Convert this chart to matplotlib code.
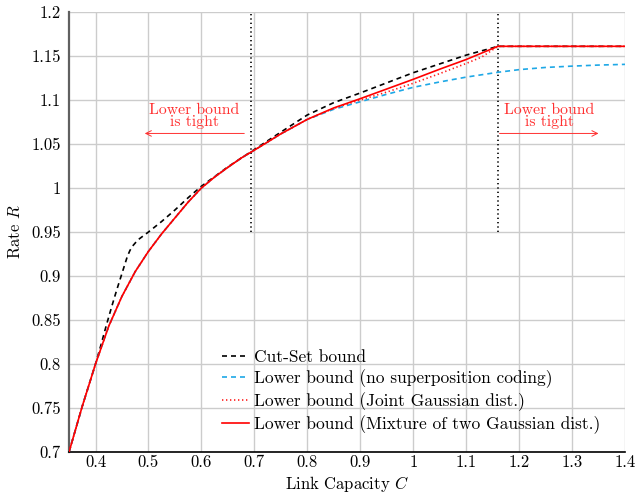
import matplotlib
matplotlib.use("Agg")
import matplotlib.pyplot as plt

plt.rcParams["font.family"] = ["cmr10", "DejaVu Serif"]
plt.rcParams["mathtext.fontset"] = "cm"
plt.rcParams["axes.formatter.use_mathtext"] = True

# Cut-set upper bound
cut_C = [0.35, 0.375, 0.4, 0.41, 0.42, 0.43, 0.44, 0.45, 0.46, 0.465, 0.47,
         0.48, 0.5, 0.525, 0.55, 0.575, 0.6, 0.65, 0.693, 0.75, 0.8, 0.85,
         0.9, 1.0, 1.1, 1.16, 1.2, 1.3, 1.4]
cut_R = [0.7, 0.752, 0.8, 0.821, 0.843, 0.864, 0.884, 0.903, 0.922, 0.929,
         0.934, 0.941, 0.950, 0.962, 0.975, 0.989, 1.002, 1.024, 1.041,
         1.0635, 1.083, 1.097, 1.108, 1.131, 1.151, 1.161, 1.161, 1.161, 1.161]

# Lower bound without superposition coding
nosc_C = [0.35, 0.375, 0.4, 0.425, 0.45, 0.475, 0.5, 0.525, 0.55, 0.575, 0.6,
          0.625, 0.65, 0.675, 0.7, 0.75, 0.8, 0.85, 0.9, 0.95, 1.0, 1.05,
          1.1, 1.16, 1.2, 1.25, 1.3, 1.35, 1.4]
nosc_R = [0.7, 0.752, 0.8, 0.843, 0.877, 0.905, 0.928, 0.948, 0.966, 0.984,
          1.0, 1.0125, 1.0235, 1.034, 1.043, 1.0615, 1.078, 1.0895, 1.098,
          1.1065, 1.1144, 1.1205, 1.126, 1.1315, 1.1345, 1.137, 1.1385,
          1.1397, 1.1405]

# Lower bound with jointly Gaussian distribution
jg_C = [0.35, 0.375, 0.4, 0.425, 0.45, 0.475, 0.5, 0.525, 0.55, 0.575, 0.6,
        0.625, 0.65, 0.675, 0.7, 0.75, 0.8, 0.85, 0.9, 0.95, 1.0, 1.05, 1.1,
        1.13, 1.16, 1.2, 1.3, 1.4]
jg_R = [0.7, 0.752, 0.8, 0.843, 0.877, 0.905, 0.928, 0.948, 0.966, 0.984,
        1.0, 1.0125, 1.0235, 1.034, 1.043, 1.0615, 1.078, 1.0905, 1.1, 1.109,
        1.119, 1.130, 1.1415, 1.149, 1.161, 1.161, 1.161, 1.161]

# Lower bound with a mixture of two Gaussian distributions
mix_C = [0.35, 0.375, 0.4, 0.425, 0.45, 0.475, 0.5, 0.525, 0.55, 0.575, 0.6,
         0.625, 0.65, 0.675, 0.7, 0.75, 0.8, 0.85, 0.9, 0.95, 1.0, 1.05, 1.1,
         1.16, 1.2, 1.3, 1.4]
mix_R = [0.7, 0.752, 0.8, 0.843, 0.877, 0.905, 0.928, 0.948, 0.966, 0.984,
         1.0, 1.0125, 1.0235, 1.034, 1.043, 1.0615, 1.078, 1.091, 1.1015,
         1.1125, 1.1235, 1.135, 1.146, 1.161, 1.161, 1.161, 1.161]

# Thresholds marking where the lower bound is tight
thresholds = [0.693, 1.16]
threshold_ymin = 0.95

x_ticks = [0.4, 0.5, 0.6, 0.7, 0.8, 0.9, 1.0, 1.1, 1.2, 1.3, 1.4]
x_labels = ["0.4", "0.5", "0.6", "0.7", "0.8", "0.9", "1", "1.1", "1.2", "1.3", "1.4"]
y_ticks = [0.7, 0.75, 0.8, 0.85, 0.9, 0.95, 1.0, 1.05, 1.1, 1.15, 1.2]
y_labels = ["0.7", "0.75", "0.8", "0.85", "0.9", "0.95", "1", "1.05", "1.1", "1.15", "1.2"]

fig = plt.figure(figsize=(6.38, 4.94), dpi=100)
ax = fig.add_axes([0.1082, 0.085, 0.8714, 0.8907])

lw = 1.2
ax.plot(cut_C, cut_R, color="black", lw=lw, dashes=(3.0, 2.4),
        label="Cut-Set bound", zorder=3)
ax.plot(nosc_C, nosc_R, color="#1ea8e6", lw=lw, dashes=(3.0, 2.4),
        label="Lower bound (no superposition coding)", zorder=3)
ax.plot(jg_C, jg_R, color="#ff1a1a", lw=lw, dashes=(0.8, 1.6),
        label="Lower bound (Joint Gaussian dist.)", zorder=4)
ax.plot(mix_C, mix_R, color="#ff0000", lw=lw,
        label="Lower bound (Mixture of two Gaussian dist.)", zorder=5)

for xv in thresholds:
    ax.plot([xv, xv], [threshold_ymin, 1.2], color="black", lw=1.2,
            dashes=(0.8, 1.8), zorder=2)

red_txt = "#ff3030"
ax.annotate("", xy=(0.493, 1.062), xytext=(0.681, 1.062),
            arrowprops=dict(arrowstyle="->", color=red_txt, lw=0.7,
                            shrinkA=0, shrinkB=0))
ax.text(0.5865, 1.0665, "Lower bound\nis tight", color=red_txt, fontsize=11.3,
        ha="center", va="bottom", linespacing=0.85)
ax.annotate("", xy=(1.35, 1.062), xytext=(1.163, 1.062),
            arrowprops=dict(arrowstyle="->", color=red_txt, lw=0.7,
                            shrinkA=0, shrinkB=0))
ax.text(1.2565, 1.0665, "Lower bound\nis tight", color=red_txt, fontsize=11.3,
        ha="center", va="bottom", linespacing=0.85)

ax.set_xlim(0.35, 1.4)
ax.set_ylim(0.7, 1.2)
ax.set_xticks(x_ticks)
ax.set_xticklabels(x_labels)
ax.set_yticks(y_ticks)
ax.set_yticklabels(y_labels)
ax.tick_params(length=0, labelsize=12)
ax.tick_params(axis="x", pad=2)
ax.tick_params(axis="y", pad=6)
ax.grid(True, color="#cccccc", lw=1.0, zorder=0)
ax.set_axisbelow(True)

for side in ("top", "right"):
    ax.spines[side].set_visible(False)
ax.spines["left"].set_color("#606060")
ax.spines["left"].set_linewidth(1.6)
ax.spines["bottom"].set_color("black")
ax.spines["bottom"].set_linewidth(1.2)

ax.set_xlabel("Link Capacity $C$", fontsize=12, labelpad=3)
ax.set_ylabel("Rate $R$", fontsize=12, labelpad=6)

ax.legend(loc="upper left", bbox_to_anchor=(0.2755, 0.2325), frameon=False,
          fontsize=12.5, handlelength=1.55, handletextpad=0.29,
          labelspacing=0.25, borderaxespad=0, borderpad=0)

fig.savefig("out.png", dpi=100)
